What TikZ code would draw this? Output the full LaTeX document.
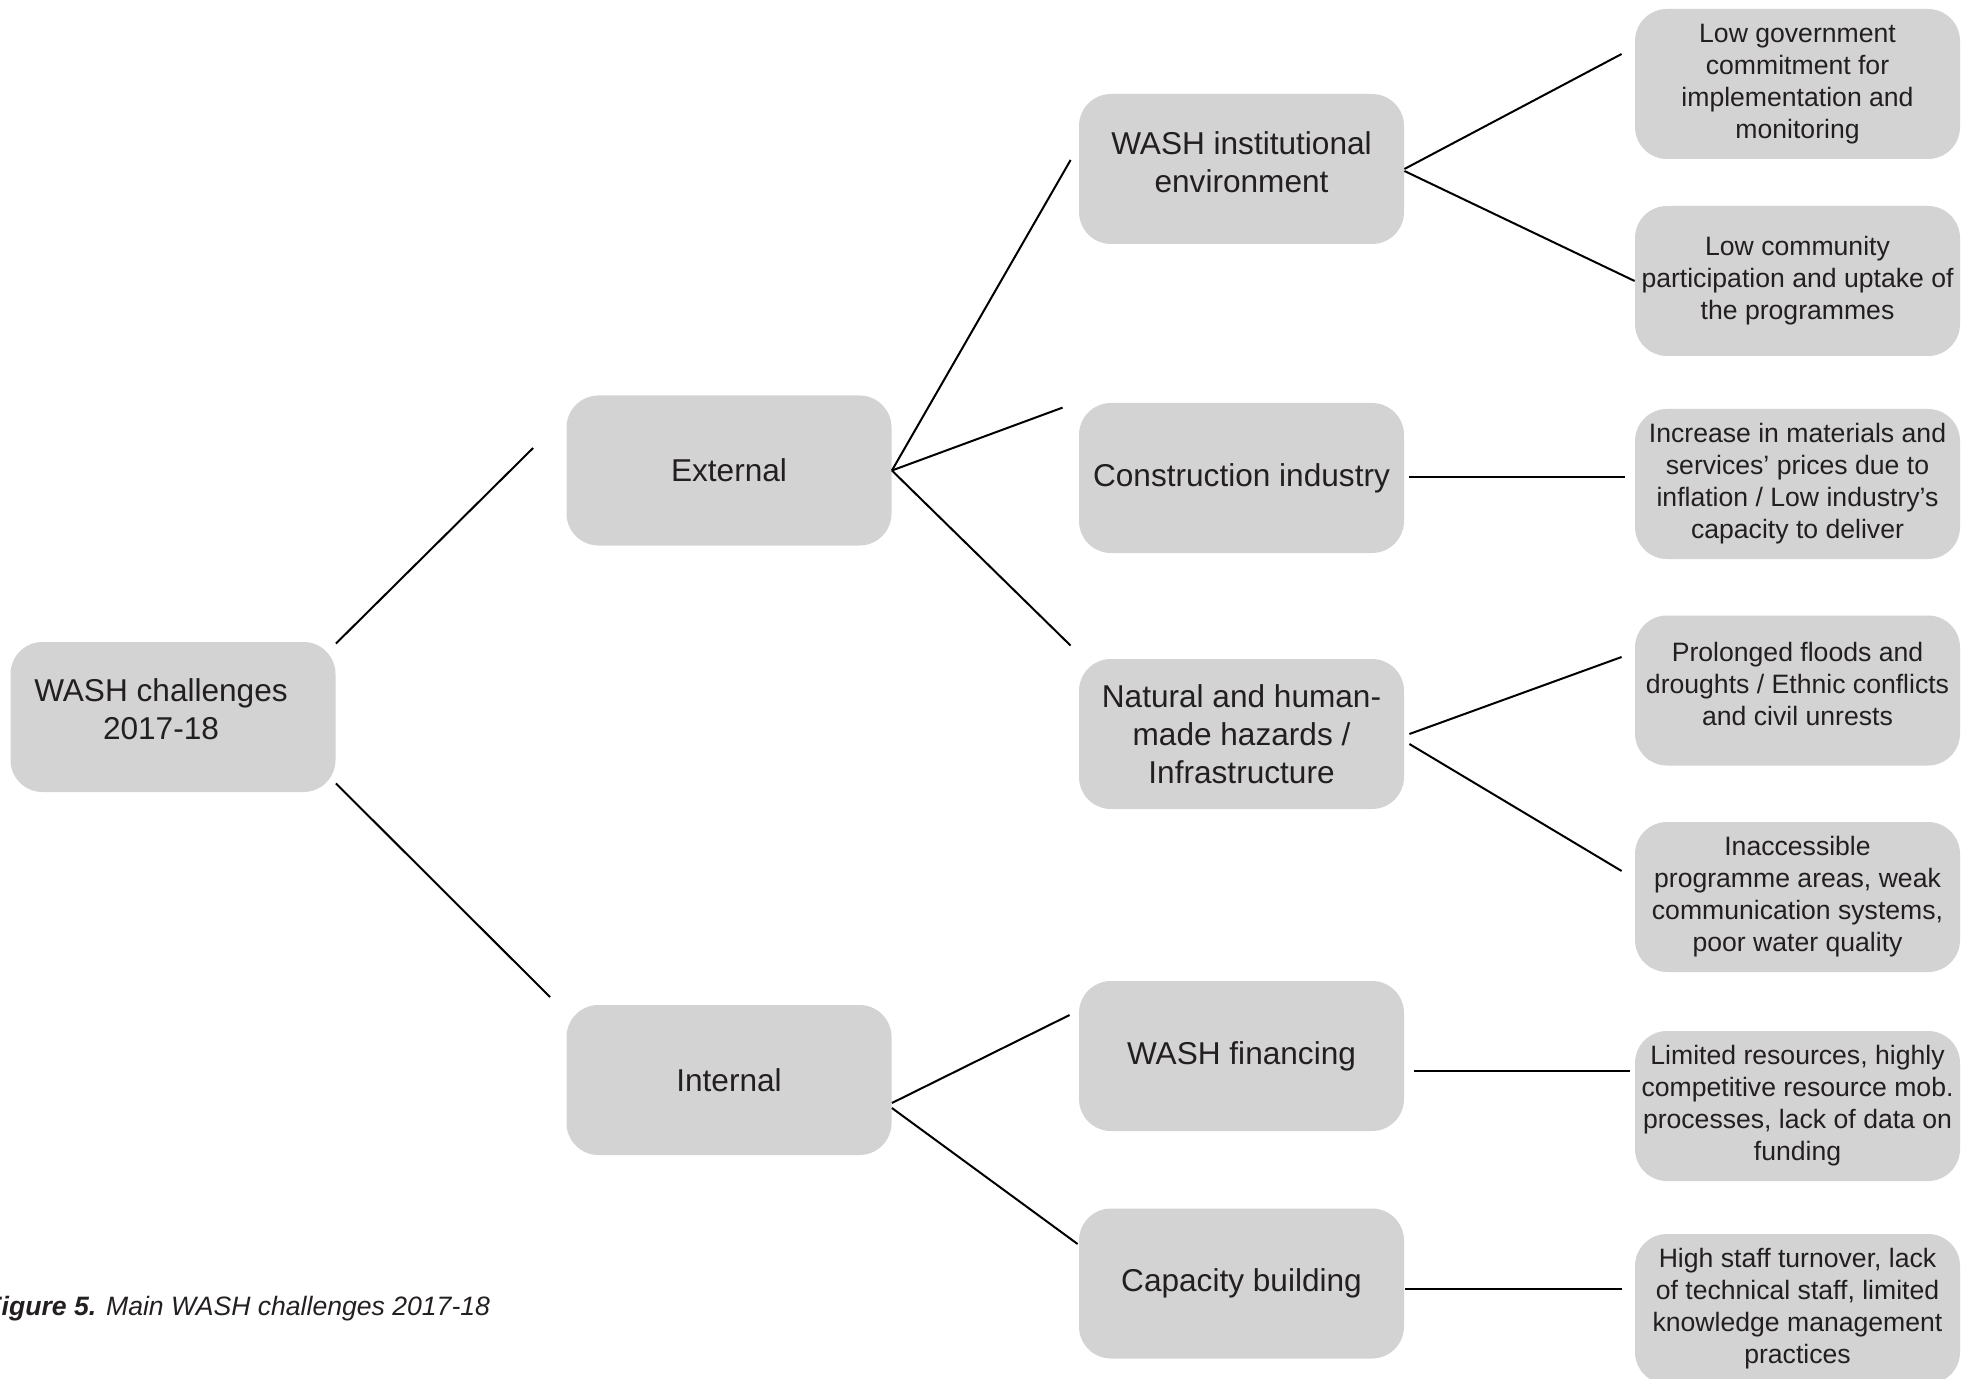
\documentclass[tikz,border=0pt]{standalone}
\usepackage{fontspec}
\setmainfont{Liberation Sans}
\begin{document}
\begin{tikzpicture}[x=0.5pt,y=-0.5pt,
  box/.style={fill=boxgray,draw=none,rounded corners=16pt,minimum width=162.5pt,minimum height=75pt,align=center,inner sep=2pt,text=txt},
  big/.style={box,font=\fontsize{15.8pt}{18.9pt}\selectfont},
  small/.style={box,font=\fontsize{13.3pt}{16pt}\selectfont},
  conn/.style={draw=black,line width=1pt}]
\definecolor{boxgray}{RGB}{211,211,211}
\definecolor{txt}{RGB}{35,31,32}
\useasboundingbox (0,0) rectangle (1974,1379);
% level 0
\node[big] (root) at (173,717) {WASH challenges\kern12pt\mbox{}\\2017-18\kern12pt\mbox{}\\[-11pt]\mbox{}};
% level 1
\node[big] (ext) at (729,470.5) {External};
\node[big] (int) at (729,1080) {Internal};
% level 2
\node[big] (inst) at (1241.5,169) {WASH institutional\\environment\\[-12pt]\mbox{}};
\node[big] (cons) at (1241.5,478) {Construction industry};
\node[big] (nat) at (1241.5,734) {Natural and human-\\made hazards /\\Infrastructure};
\node[big] (fin) at (1241.5,1056) {WASH financing};
\node[big] (cap) at (1241.5,1283.5) {Capacity building};
% level 3
\node[small] (gov) at (1797.5,84) {Low government\\commitment for\\implementation and\\monitoring};
\node[small] (comm) at (1797.5,281) {Low community\\participation and uptake of\\the programmes};
\node[small] (inc) at (1797.5,484) {Increase in materials and\\services' prices due to\\inflation / Low industry's\\capacity to deliver};
\node[small] (flood) at (1797.5,690.5) {Prolonged floods and\\droughts / Ethnic conflicts\\and civil unrests\\[-9pt]\mbox{}};
\node[small] (inacc) at (1797.5,897) {Inaccessible\\programme areas, weak\\communication systems,\\poor water quality};
\node[small] (lim) at (1797.5,1106) {Limited resources, highly\\competitive resource mob.\\processes, lack of data on\\funding};
\node[small] (staff) at (1797.5,1309) {High staff turnover, lack\\of technical staff, limited\\knowledge management\\practices};
% caption (its first letter is cut by the left edge, as in the reference)
\node[anchor=base west,inner sep=0pt,text=txt,font=\fontsize{13.3pt}{16pt}\selectfont\itshape] (cap0) at (-15,1315) {\textbf{Figure 5.} Main WASH challenges 2017-18};
% connectors
\draw[conn] ([yshift=-1pt]root.north east) -- ([xshift=-16.5pt,yshift=11.25pt]ext.west);
\draw[conn] ([yshift=4.5pt]root.south east) -- ([xshift=-8pt,yshift=3.75pt]int.north west);
\draw[conn] (ext.east) -- ([xshift=-4pt,yshift=4.5pt]inst.west);
\draw[conn] (ext.east) -- ([xshift=-8pt,yshift=-2.5pt]cons.north west);
\draw[conn] (ext.east) -- ([xshift=-4pt,yshift=6.5pt]nat.north west);
\draw[conn] ([yshift=-11.5pt]int.east) -- ([xshift=-4.5pt,yshift=20.5pt]fin.west);
\draw[conn] ([yshift=-14pt]int.east) -- ([xshift=-0.5pt,yshift=19.75pt]cap.west);
\draw[conn] (inst.east) -- ([xshift=-6.5pt,yshift=15pt]gov.west);
\draw[conn] ([yshift=-1pt]inst.east) -- (comm.west);
\draw[conn] ([xshift=2.5pt,yshift=0.5pt]cons.east) -- ([xshift=-5pt,yshift=3.5pt]inc.west);
\draw[conn] ([xshift=2.5pt]nat.east) -- ([xshift=-6.5pt,yshift=16.75pt]flood.west);
\draw[conn] ([xshift=2.5pt,yshift=-5pt]nat.east) -- ([xshift=-6.5pt,yshift=13pt]inacc.west);
\draw[conn] ([xshift=5pt,yshift=-7.5pt]fin.east) -- ([xshift=-2.5pt,yshift=17.5pt]lim.west);
\draw[conn] ([xshift=0.5pt,yshift=-2.75pt]cap.east) -- ([xshift=-6.5pt,yshift=10pt]staff.west);
\end{tikzpicture}
\end{document}
